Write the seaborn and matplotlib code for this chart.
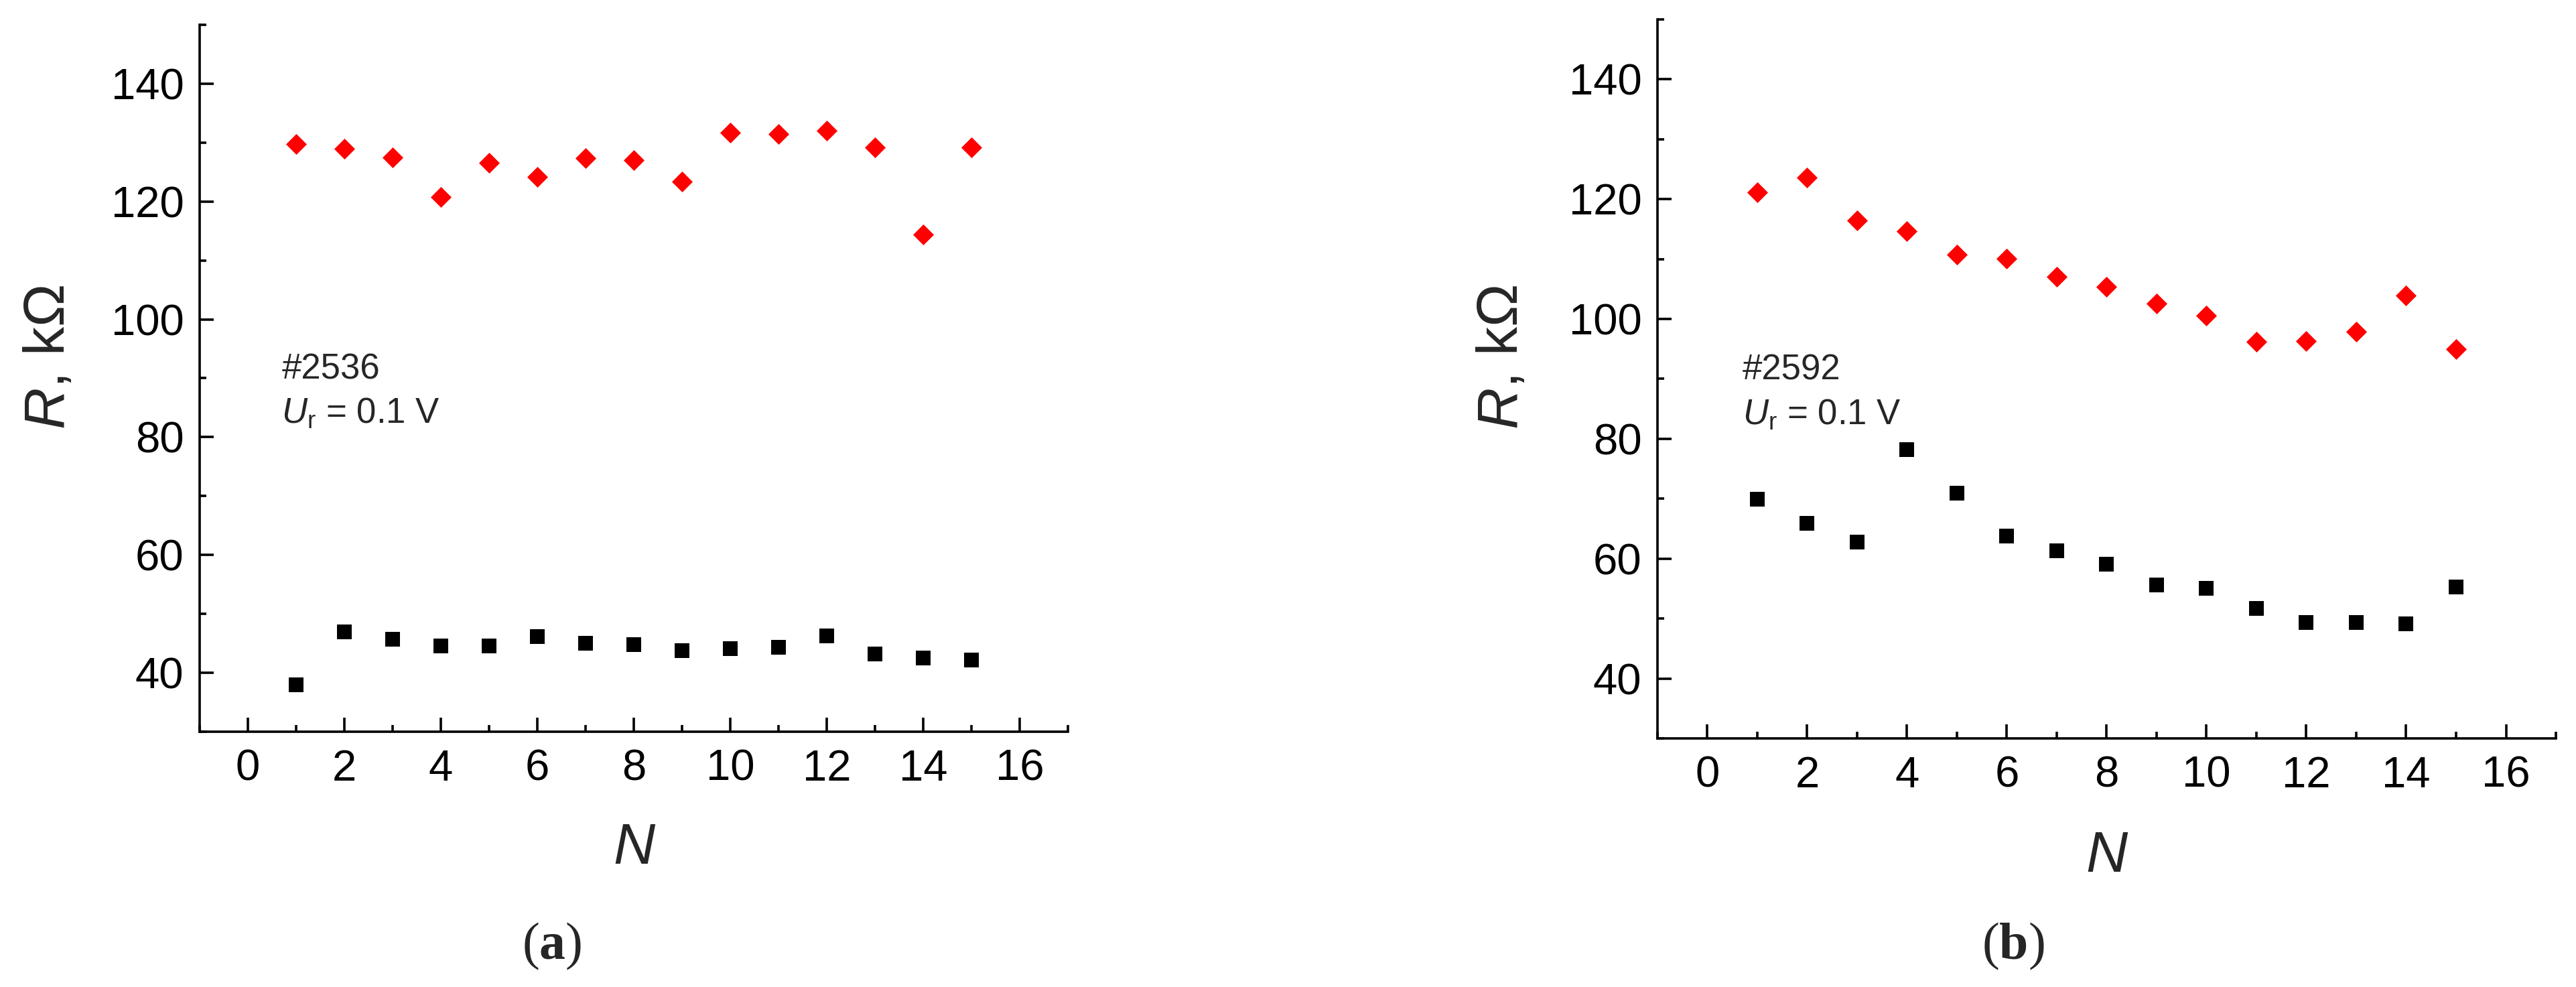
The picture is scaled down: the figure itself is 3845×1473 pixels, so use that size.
import matplotlib
matplotlib.use('Agg')
import matplotlib.pyplot as plt
import numpy   as np
import pandas  as pd
import seaborn as sns

from matplotlib.ticker import MultipleLocator

# Cycle number N and resistance values (kOhm)
cycles = list(range(1, 16))

r_high_2536 = [129.8, 129.0, 127.5, 120.8, 126.6, 124.2, 127.4, 127.0,
               123.4, 131.7, 131.4, 132.0, 129.2, 114.4, 129.2]
r_low_2536  = [38.0, 46.9, 45.7, 44.6, 44.5, 46.1, 45.0, 44.8,
               43.7, 44.1, 44.3, 46.3, 43.2, 42.5, 42.2]

r_high_2592 = [121.2, 123.6, 116.5, 114.7, 110.8, 110.1, 107.0, 105.4,
               102.6, 100.6, 96.2, 96.3, 97.9, 103.9, 95.0]
r_low_2592  = [69.9, 65.9, 62.8, 78.2, 70.9, 63.8, 61.3, 59.1,
               55.6, 55.0, 51.7, 49.3, 49.3, 49.1, 55.3]

samples  = ['#2536', '#2592']
captions = ['a', 'b']
u_read   = '0.1 V'

sns.set_theme(style='ticks')
plt.rcParams['font.family']      = ['Liberation Sans', 'DejaVu Sans']
plt.rcParams['mathtext.fontset'] = 'custom'
plt.rcParams['mathtext.it']      = 'Liberation Sans:italic'
plt.rcParams['mathtext.sf']      = 'Liberation Sans'
plt.rcParams['mathtext.rm']      = 'Liberation Serif'
plt.rcParams['mathtext.bf']      = 'Liberation Serif:bold'

fig = plt.figure(figsize=(38.45, 14.73), dpi=100)

boxes = [[0.0775, 0.2587, 0.3371, 0.7162],
         [0.6434, 0.2519, 0.3488, 0.7284]]
caption_x = [0.2143, 0.7815]

panels = [(r_high_2536, r_low_2536), (r_high_2592, r_low_2592)]

for i, (high, low) in enumerate(panels):
    ax = fig.add_axes(boxes[i])
    df = pd.DataFrame({'N': cycles, 'high': high, 'low': low})

    sns.scatterplot(data=df, x='N', y='high', marker='D', s=250,
                    color='#ff0000', linewidth=0, ax=ax, zorder=3)
    sns.scatterplot(data=df, x='N', y='low', marker='s', s=250,
                    color='black', linewidth=0, ax=ax, zorder=3)

    ax.set_xlim(-1, 17)
    ax.set_ylim(30, 150)
    ax.xaxis.set_major_locator(MultipleLocator(2))
    ax.xaxis.set_minor_locator(MultipleLocator(1))
    ax.yaxis.set_major_locator(MultipleLocator(20))
    ax.yaxis.set_minor_locator(MultipleLocator(10))

    for side in ['top', 'right']:
        ax.spines[side].set_visible(False)
    for side in ['left', 'bottom']:
        ax.spines[side].set_linewidth(2.6)
        ax.spines[side].set_color('black')

    ax.tick_params(which='major', direction='in', length=15, width=2.6,
                   labelsize=47, color='black', labelcolor='black')
    ax.tick_params(axis='y', which='major', pad=17)
    ax.tick_params(axis='x', which='major', pad=18.5)
    ax.tick_params(which='minor', direction='in', length=7.5, width=2.6,
                   color='black')

    ax.set_xlabel('N', fontsize=62, fontstyle='italic', va='top')
    ax.set_ylabel(r'$\mathit{R}$, kΩ', fontsize=62)
    ax.xaxis.set_label_coords(0.5, -0.128)
    ax.yaxis.set_label_coords(-0.142, 0.53)

    ax.text(0.7, 89.9, samples[i], fontsize=38, va='baseline', ha='left')
    ax.text(0.7, 82.4, r'$\mathit{U}_\mathsf{r}$ = ' + u_read, fontsize=38,
            va='baseline', ha='left')

    fig.text(caption_x[i], 0.028, r'($\mathbf{' + captions[i] + r'}$)',
             fontsize=56, family='Liberation Serif', ha='center', va='baseline')

fig.savefig('out.png', dpi=100, facecolor='white')
